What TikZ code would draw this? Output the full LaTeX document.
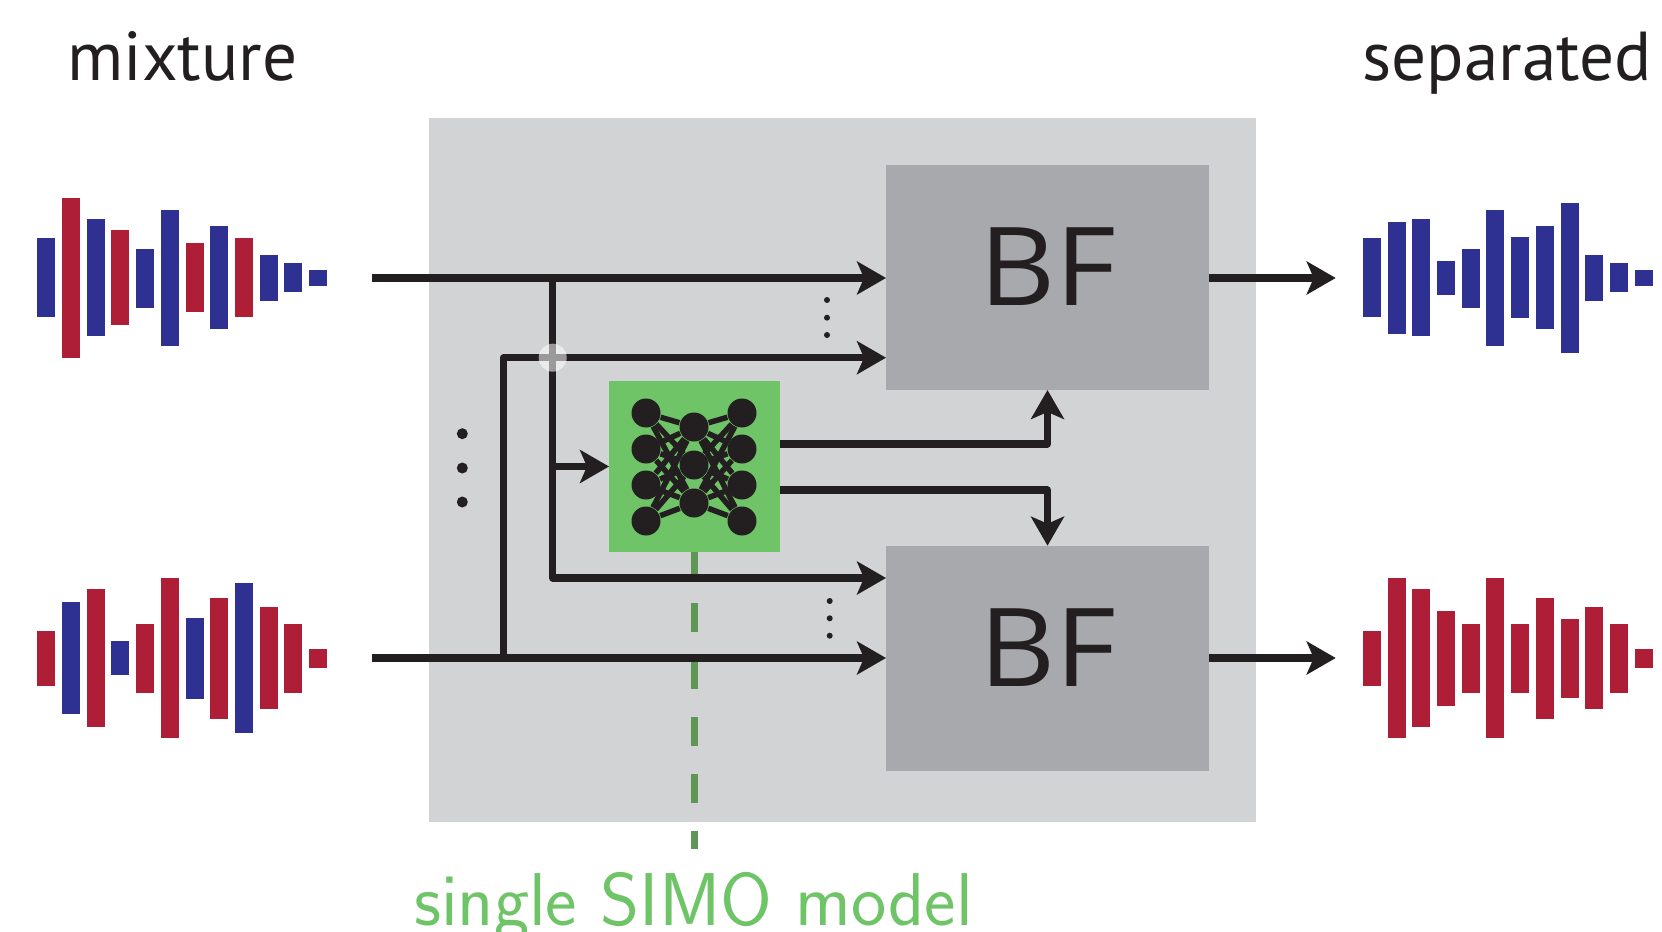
\documentclass[tikz,border=0pt]{standalone}
\usepackage{xcolor}
\usepackage{fontspec}
\setmainfont{PT Sans}
\newfontfamily\bffont[FakeStretch=1.08]{Open Sans}
\usepackage{tikz}
\usetikzlibrary{positioning,arrows.meta,calc}
\definecolor{ink}{HTML}{231F20}
\definecolor{panelgray}{HTML}{D1D3D4}
\definecolor{bfgray}{HTML}{A7A9AC}
\definecolor{netgreen}{HTML}{6FC467}
\definecolor{dashgreen}{HTML}{5E9655}
\definecolor{wblue}{HTML}{2E3192}
\definecolor{wred}{HTML}{AE1E37}
\tikzset{
  panel/.style={fill=panelgray, inner sep=0pt, outer sep=0pt, minimum width=82.7mm, minimum height=70.4mm},
  bfbox/.style={fill=bfgray, text=ink, inner sep=0pt, outer sep=0pt, minimum width=32.3mm, minimum height=22.5mm,
                font=\bffont\fontsize{31}{32}\selectfont, text height=7.8mm, text depth=2.2mm},
  netbox/.style={fill=netgreen, inner sep=0pt, outer sep=0pt, minimum size=17.1mm},
  unit/.style={circle, fill=ink, inner sep=0pt, minimum size=2.9mm},
  link/.style={draw=ink, line width=0.55mm},
  wire/.style={draw=ink, line width=0.72mm, line join=round},
  flow/.style={wire, -{Stealth[length=2.9mm, width=3.3mm, inset=0.7mm]}},
  simo/.style={draw=dashgreen, line width=0.62mm, dash pattern=on 2.9mm off 2.8mm, dash phase=0.6mm},
  lbl/.style={font=\fontsize{19.7}{22}\selectfont, text=ink, inner sep=0pt, anchor=base},
}

\begin{document}
\begin{tikzpicture}[x=0.1mm, y=-0.1mm]
    \useasboundingbox (0,0) rectangle (1662,932);

    \node[lbl] (mix) at (182.5,81) {mixture};
    \node[lbl] (sep) at (1507,81) {separated};
    \node[panel] (panel) at (842.5,470) {};
    \node[bfbox] (bfA) at (1047.5,277.5) {BF};
    \node[bfbox] (bfB) at (1047.5,658.2) {BF};
    \node[netbox] (net) at (694.5,466.5) {};
    \node[font=\sffamily\fontsize{21.3}{22}\selectfont, text=netgreen, inner sep=0pt, anchor=base] (model) at (693.5,925) {single SIMO model};

    % waveforms
    \foreach \bx/\ya/\yb/\bc in {37/238/317/wblue, 62/198/358/wred, 87/219/336/wblue, 111/230/325/wred,
        136/249/308/wblue, 161/210/346/wblue, 186/243/312/wred, 210/226/329/wblue,
        235/238/317/wred, 260/255/301/wblue, 284/263/292/wblue, 309/270/286/wblue}
      \fill[\bc] (\bx,\ya) rectangle ++(18,\yb-\ya);
    \foreach \bx/\ya/\yb/\bc in {37/631/686/wred, 62/602/714/wblue, 87/589/727/wred, 111/641/675/wblue,
        136/624/693/wred, 161/578/738/wred, 186/618/699/wblue, 210/598/719/wred,
        235/583/733/wblue, 260/607/709/wred, 284/624/693/wred, 309/649/668/wred}
      \fill[\bc] (\bx,\ya) rectangle ++(18,\yb-\ya);
    \foreach \bx/\ya/\yb in {1363/238/317, 1388/222/334, 1412/219/336, 1437/261/295,
        1462/249/308, 1486/210/346, 1511/237/318, 1536/226/329,
        1561/203/353, 1585/255/301, 1610/263/292, 1635/270/286}
      \fill[wblue] (\bx,\ya) rectangle ++(18,\yb-\ya);
    \foreach \bx/\ya/\yb in {1363/631/686, 1388/578/738, 1412/589/727, 1437/611/706,
        1462/624/693, 1486/578/738, 1511/624/693, 1536/598/719,
        1561/619/698, 1585/607/709, 1610/624/693, 1635/649/668}
      \fill[wred] (\bx,\ya) rectangle ++(18,\yb-\ya);

    % network icon
    \foreach \n/\y in {1/413,2/449,3/485,4/521} {
      \node[unit] (l\n) at (646,\y) {};
      \node[unit] (r\n) at (742,\y) {};
    }
    \foreach \n/\y in {1/427,2/465,3/503}
      \node[unit] (m\n) at (694,\y) {};
    \foreach \a in {1,2,3,4}
      \foreach \b in {1,2,3}
        \draw[link] (l\a) -- (m\b) (r\a) -- (m\b);

    \coordinate (modelEnd) at (694.5,849);
    \draw[simo] (net.south -| modelEnd) -- (modelEnd);

    \coordinate (inA) at (372,278);
    \coordinate (inB) at (372,658);
    \coordinate (tapA) at (552.7,278);
    \coordinate (tapB) at (503.7,658);
    \coordinate (outA) at (1335.7,278);
    \coordinate (outB) at (1335.7,658);

    \draw[flow] (inA) -- (inA -| bfA.west);
    \draw[flow] (inB) -- (inB -| bfB.west);
    \draw[flow] (tapA) |- (bfB.west |- 0,578);
    \draw[flow] (tapB) |- (bfA.west |- 0,357.7);
    \draw[flow] (tapA |- net.west) -- (net.west);
    \draw[flow] (net.east |- 0,444) -| (bfA.south);
    \draw[flow] (net.east |- 0,490) -| (bfB.north);
    \draw[flow] (bfA.east |- outA) -- (outA);
    \draw[flow] (bfB.east |- outB) -- (outB);

    \fill[white, opacity=0.55] (552.7,357.7) circle[radius=14];

    % dots
    \foreach \y in {433.7,468,502}
      \fill[ink] (462.3,\y) circle[radius=5.5];
    \foreach \y in {300,317.7,335}
      \fill[ink] (827,\y) circle[radius=3];
    \foreach \y in {601,618.3,635.7}
      \fill[ink] (829.7,\y) circle[radius=3];
\end{tikzpicture}
\end{document}
